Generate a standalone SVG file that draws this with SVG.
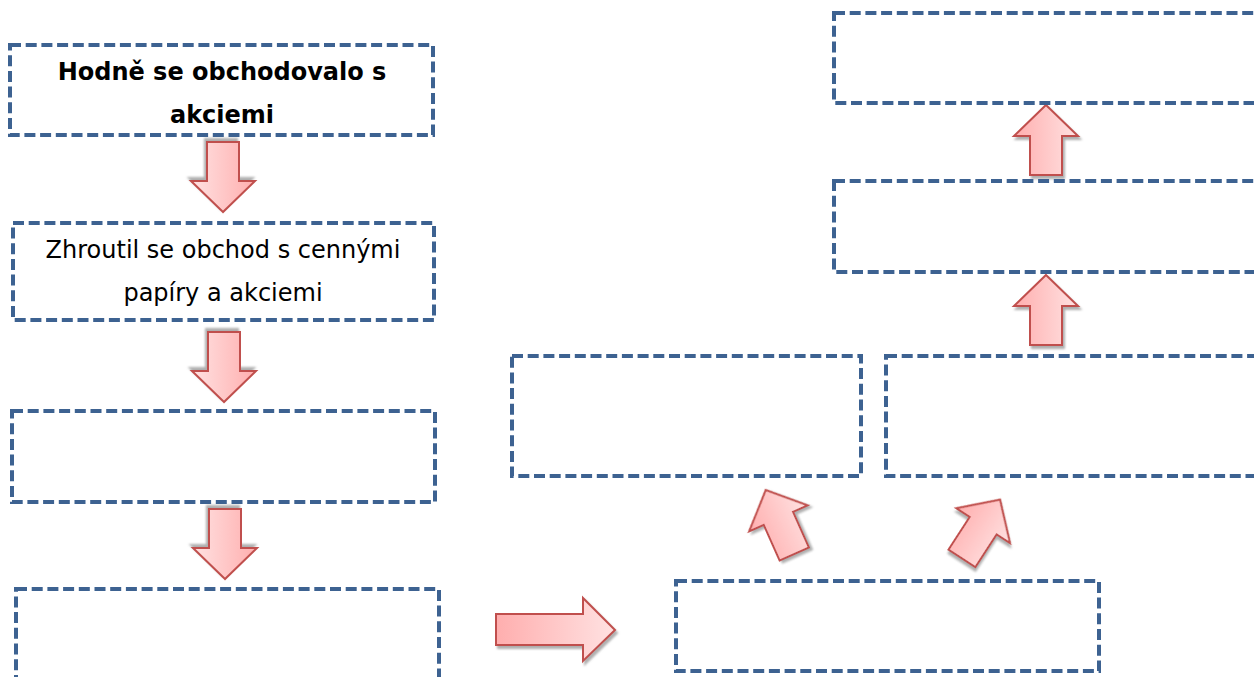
<svg xmlns="http://www.w3.org/2000/svg" width="1254" height="677" viewBox="0 0 1254 677">
<defs>
<style>
.box{fill:#ffffff;stroke:#3d6291;stroke-width:4;stroke-dasharray:11 4.7}
.arr{fill:url(#pink);stroke:#c0504d;stroke-width:2;stroke-linejoin:miter;filter:url(#shadow)}
.t{font-family:"DejaVu Sans","Verdana",sans-serif;font-size:24px;fill:#000;text-anchor:middle}
.b{font-weight:bold}
</style>
<linearGradient id="pink" x1="0" y1="0" x2="1" y2="0">
<stop offset="0" stop-color="#ffaeae"/>
<stop offset="1" stop-color="#ffe2e2"/>
</linearGradient>
<filter id="shadow" x="-30%" y="-30%" width="160%" height="160%">
<feDropShadow dx="2" dy="3" stdDeviation="1" flood-color="#7a7a7a" flood-opacity="0.6"/>
</filter>
<path id="up" d="M0,-35 L32,-4 L16,-4 L16,35 L-16,35 L-16,-4 L-32,-4 Z"/>
</defs>
<rect width="1254" height="677" fill="#ffffff"/>
<g id="connectors">
<use href="#up" class="arr" transform="translate(223,177) rotate(180)"/>
<use href="#up" class="arr" transform="translate(224,367) rotate(180)"/>
<use href="#up" class="arr" transform="translate(225,544) rotate(180)"/>
<path class="arr" d="M496,614 L583,614 L583,598 L615,630 L583,661 L583,645 L496,645 Z"/>
<use href="#up" class="arr" transform="translate(780,522) rotate(-24)"/>
<use href="#up" class="arr" transform="translate(981,529) rotate(33)"/>
<use href="#up" class="arr" transform="translate(1046,140)"/>
<use href="#up" class="arr" transform="translate(1046,310)"/>
</g>
<g id="n1">
<rect class="box" x="10" y="45" width="423" height="90"/>
<text class="t b" x="222" y="80">Hodně se obchodovalo s</text>
<text class="t b" x="222" y="123">akciemi</text>
</g>
<g id="n2">
<rect class="box" x="13" y="223" width="421" height="97"/>
<text class="t" x="223" y="258">Zhroutil se obchod s cennými</text>
<text class="t" x="223" y="301">papíry a akciemi</text>
</g>
<g id="n3">
<rect class="box" x="12" y="411" width="423" height="91"/>
</g>
<g id="n4">
<rect class="box" x="16" y="589" width="423" height="120"/>
</g>
<g id="n5">
<rect class="box" x="676" y="581" width="423" height="90"/>
</g>
<g id="n6">
<rect class="box" x="512" y="356" width="349" height="120"/>
</g>
<g id="n7">
<rect class="box" x="886" y="356" width="400" height="120"/>
</g>
<g id="n8">
<rect class="box" x="834" y="181" width="440" height="91"/>
</g>
<g id="n9">
<rect class="box" x="834" y="13" width="440" height="90"/>
</g>
</svg>
